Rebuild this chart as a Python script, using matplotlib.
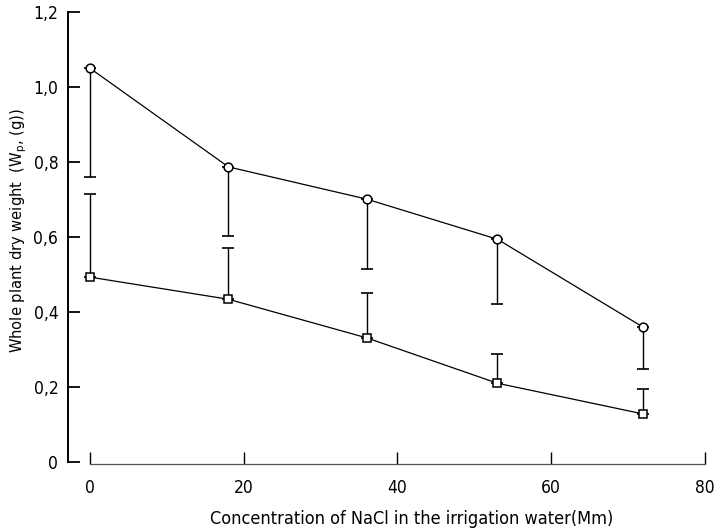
import matplotlib
matplotlib.use("Agg")
import matplotlib.pyplot as plt

# NaCl concentration (Mm) and whole plant dry weight (g)
nacl = [0, 18, 36, 53, 72]
circle_w = [1.05, 0.787, 0.701, 0.594, 0.359]
circle_low = [0.759, 0.603, 0.515, 0.421, 0.247]   # lower end of error bars
square_w = [0.493, 0.434, 0.331, 0.210, 0.128]
square_high = [0.715, 0.570, 0.450, 0.288, 0.196]  # upper end of error bars

y_ticks = [0, 0.2, 0.4, 0.6, 0.8, 1.0, 1.2]
y_ticklabels = ["0", "0,2", "0,4", "0,6", "0,8", "1,0", "1,2"]
x_ticks = [0, 20, 40, 60, 80]

plt.rcParams['font.family'] = ['DejaVu Sans']
plt.rcParams['font.stretch'] = 'condensed'

fig = plt.figure(figsize=(7.14, 5.30), dpi=100)
ax = fig.add_axes([68/714, (530-462)/530, (705-68)/714, 450/530])

c_err = [[w - lo for w, lo in zip(circle_w, circle_low)], [0]*len(circle_w)]
s_err = [[0]*len(square_w), [hi - w for w, hi in zip(square_w, square_high)]]
ax.errorbar(nacl, circle_w, yerr=c_err, fmt='none', ecolor='black', elinewidth=1.0,
            capsize=4.5, capthick=1.2, zorder=1)
ax.errorbar(nacl, square_w, yerr=s_err, fmt='none', ecolor='black', elinewidth=1.0,
            capsize=4.5, capthick=1.2, zorder=1)

ax.plot(nacl, circle_w, color='black', lw=0.9, marker='o', ms=6.3,
        mfc='white', mec='black', mew=1.1, zorder=3)
ax.plot(nacl, square_w, color='black', lw=0.9, marker='s', ms=5.8,
        mfc='white', mec='black', mew=1.1, zorder=3)

ax.set_xlim(-2.86, 80)
ax.set_ylim(0, 1.2)

ax.spines['top'].set_visible(False)
ax.spines['right'].set_visible(False)
ax.spines['left'].set_linewidth(1.4)
ax.spines['bottom'].set_linewidth(0.9)
ax.spines['bottom'].set_color('#555555')
ax.spines['bottom'].set_bounds(0, 80)
ax.spines['bottom'].set_position(('outward', 1.5))

ax.set_yticks(y_ticks)
ax.set_yticklabels(y_ticklabels)
ax.set_xticks(x_ticks)

ax.tick_params(axis='y', direction='in', length=8.5, width=1.3, pad=7, labelsize=12.5)
ax.tick_params(axis='x', direction='in', length=8.5, width=1.0, pad=11, labelsize=12.5)

ax.set_xlabel("Concentration of NaCl in the irrigation water(Mm)", fontsize=13)
ax.set_ylabel("Whole plant dry weight  (W$_\\mathregular{p}$, (g))", fontsize=11.8)
ax.yaxis.set_label_coords(-0.062, 0.515)
ax.xaxis.set_label_coords(0.54, -0.106)

fig.savefig("out.png", dpi=100)
